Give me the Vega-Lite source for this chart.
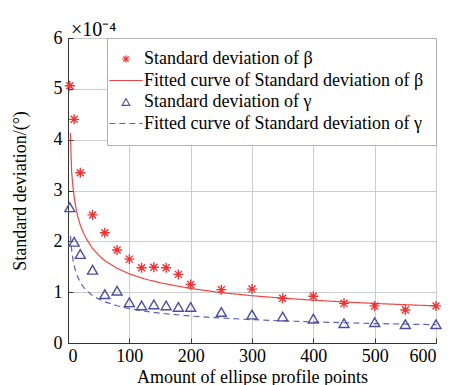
{
  "$schema": "https://vega.github.io/schema/vega-lite/v6.json",
  "width": 368,
  "height": 305,
  "autosize": "none",
  "padding": {"left": 68, "top": 38, "right": 17, "bottom": 42},
  "background": "white",
  "title": {"text": "×10⁻⁴", "anchor": "start", "frame": "group", "dx": 3, "dy": 13, "offset": 2, "font": "Liberation Serif", "fontSize": 20, "fontWeight": "normal", "color": "#000000"},
  "config": {
    "view": {"stroke": "#aaaaaa", "strokeWidth": 1},
    "axis": {
      "labelFont": "Liberation Serif",
      "labelFontSize": 18,
      "labelColor": "#000000",
      "titleFont": "Liberation Serif",
      "titleFontSize": 18,
      "titleFontWeight": "normal",
      "titleColor": "#000000",
      "domainColor": "#333333",
      "tickColor": "#333333",
      "gridColor": "#cccccc",
      "tickSize": -5
    },
    "legend": {
      "title": null,
      "fillColor": "white",
      "strokeColor": "#b0b0b0",
      "padding": 12,
      "labelFont": "Liberation Serif",
      "labelFontSize": 18,
      "labelColor": "#000000",
      "labelLimit": 0,
      "symbolSize": 60,
      "symbolStrokeWidth": 1.1,
      "symbolOffset": -2,
      "labelOffset": 9,
      "rowPadding": 3.5
    }
  },
  "datasets": {
    "pts": [
      {"x": 3, "y": 5.06, "series": "Standard deviation of β"},
      {"x": 10, "y": 4.4, "series": "Standard deviation of β"},
      {"x": 20, "y": 3.35, "series": "Standard deviation of β"},
      {"x": 40, "y": 2.52, "series": "Standard deviation of β"},
      {"x": 60, "y": 2.17, "series": "Standard deviation of β"},
      {"x": 80, "y": 1.83, "series": "Standard deviation of β"},
      {"x": 100, "y": 1.65, "series": "Standard deviation of β"},
      {"x": 120, "y": 1.48, "series": "Standard deviation of β"},
      {"x": 140, "y": 1.49, "series": "Standard deviation of β"},
      {"x": 160, "y": 1.48, "series": "Standard deviation of β"},
      {"x": 180, "y": 1.35, "series": "Standard deviation of β"},
      {"x": 200, "y": 1.15, "series": "Standard deviation of β"},
      {"x": 250, "y": 1.05, "series": "Standard deviation of β"},
      {"x": 300, "y": 1.06, "series": "Standard deviation of β"},
      {"x": 350, "y": 0.88, "series": "Standard deviation of β"},
      {"x": 400, "y": 0.92, "series": "Standard deviation of β"},
      {"x": 450, "y": 0.78, "series": "Standard deviation of β"},
      {"x": 500, "y": 0.73, "series": "Standard deviation of β"},
      {"x": 550, "y": 0.65, "series": "Standard deviation of β"},
      {"x": 600, "y": 0.73, "series": "Standard deviation of β"},
      {"x": 3, "y": 2.67, "series": "Standard deviation of γ"},
      {"x": 10, "y": 1.99, "series": "Standard deviation of γ"},
      {"x": 20, "y": 1.75, "series": "Standard deviation of γ"},
      {"x": 40, "y": 1.44, "series": "Standard deviation of γ"},
      {"x": 60, "y": 0.96, "series": "Standard deviation of γ"},
      {"x": 80, "y": 1.03, "series": "Standard deviation of γ"},
      {"x": 100, "y": 0.8, "series": "Standard deviation of γ"},
      {"x": 120, "y": 0.74, "series": "Standard deviation of γ"},
      {"x": 140, "y": 0.76, "series": "Standard deviation of γ"},
      {"x": 160, "y": 0.74, "series": "Standard deviation of γ"},
      {"x": 180, "y": 0.71, "series": "Standard deviation of γ"},
      {"x": 200, "y": 0.71, "series": "Standard deviation of γ"},
      {"x": 250, "y": 0.61, "series": "Standard deviation of γ"},
      {"x": 300, "y": 0.56, "series": "Standard deviation of γ"},
      {"x": 350, "y": 0.52, "series": "Standard deviation of γ"},
      {"x": 400, "y": 0.48, "series": "Standard deviation of γ"},
      {"x": 450, "y": 0.39, "series": "Standard deviation of γ"},
      {"x": 500, "y": 0.41, "series": "Standard deviation of γ"},
      {"x": 550, "y": 0.37, "series": "Standard deviation of γ"},
      {"x": 600, "y": 0.37, "series": "Standard deviation of γ"}
    ],
    "fit": [
      {"x": 4, "y": 4.13, "series": "Fitted curve of Standard deviation of β"},
      {"x": 5, "y": 3.68, "series": "Fitted curve of Standard deviation of β"},
      {"x": 6, "y": 3.36, "series": "Fitted curve of Standard deviation of β"},
      {"x": 8, "y": 3.08, "series": "Fitted curve of Standard deviation of β"},
      {"x": 10, "y": 2.88, "series": "Fitted curve of Standard deviation of β"},
      {"x": 12, "y": 2.72, "series": "Fitted curve of Standard deviation of β"},
      {"x": 15, "y": 2.53, "series": "Fitted curve of Standard deviation of β"},
      {"x": 20, "y": 2.32, "series": "Fitted curve of Standard deviation of β"},
      {"x": 25, "y": 2.17, "series": "Fitted curve of Standard deviation of β"},
      {"x": 30, "y": 2.05, "series": "Fitted curve of Standard deviation of β"},
      {"x": 40, "y": 1.86, "series": "Fitted curve of Standard deviation of β"},
      {"x": 50, "y": 1.73, "series": "Fitted curve of Standard deviation of β"},
      {"x": 60, "y": 1.62, "series": "Fitted curve of Standard deviation of β"},
      {"x": 80, "y": 1.47, "series": "Fitted curve of Standard deviation of β"},
      {"x": 100, "y": 1.36, "series": "Fitted curve of Standard deviation of β"},
      {"x": 125, "y": 1.26, "series": "Fitted curve of Standard deviation of β"},
      {"x": 150, "y": 1.185, "series": "Fitted curve of Standard deviation of β"},
      {"x": 200, "y": 1.072, "series": "Fitted curve of Standard deviation of β"},
      {"x": 250, "y": 0.991, "series": "Fitted curve of Standard deviation of β"},
      {"x": 300, "y": 0.93, "series": "Fitted curve of Standard deviation of β"},
      {"x": 350, "y": 0.882, "series": "Fitted curve of Standard deviation of β"},
      {"x": 400, "y": 0.842, "series": "Fitted curve of Standard deviation of β"},
      {"x": 450, "y": 0.808, "series": "Fitted curve of Standard deviation of β"},
      {"x": 500, "y": 0.778, "series": "Fitted curve of Standard deviation of β"},
      {"x": 550, "y": 0.753, "series": "Fitted curve of Standard deviation of β"},
      {"x": 600, "y": 0.731, "series": "Fitted curve of Standard deviation of β"},
      {"x": 4, "y": 2.11, "series": "Fitted curve of Standard deviation of γ"},
      {"x": 5, "y": 1.95, "series": "Fitted curve of Standard deviation of γ"},
      {"x": 6, "y": 1.83, "series": "Fitted curve of Standard deviation of γ"},
      {"x": 8, "y": 1.65, "series": "Fitted curve of Standard deviation of γ"},
      {"x": 10, "y": 1.526, "series": "Fitted curve of Standard deviation of γ"},
      {"x": 12, "y": 1.431, "series": "Fitted curve of Standard deviation of γ"},
      {"x": 15, "y": 1.322, "series": "Fitted curve of Standard deviation of γ"},
      {"x": 20, "y": 1.195, "series": "Fitted curve of Standard deviation of γ"},
      {"x": 25, "y": 1.104, "series": "Fitted curve of Standard deviation of γ"},
      {"x": 30, "y": 1.035, "series": "Fitted curve of Standard deviation of γ"},
      {"x": 40, "y": 0.935, "series": "Fitted curve of Standard deviation of γ"},
      {"x": 50, "y": 0.865, "series": "Fitted curve of Standard deviation of γ"},
      {"x": 60, "y": 0.811, "series": "Fitted curve of Standard deviation of γ"},
      {"x": 80, "y": 0.732, "series": "Fitted curve of Standard deviation of γ"},
      {"x": 100, "y": 0.677, "series": "Fitted curve of Standard deviation of γ"},
      {"x": 125, "y": 0.626, "series": "Fitted curve of Standard deviation of γ"},
      {"x": 150, "y": 0.587, "series": "Fitted curve of Standard deviation of γ"},
      {"x": 200, "y": 0.53, "series": "Fitted curve of Standard deviation of γ"},
      {"x": 250, "y": 0.49, "series": "Fitted curve of Standard deviation of γ"},
      {"x": 300, "y": 0.459, "series": "Fitted curve of Standard deviation of γ"},
      {"x": 350, "y": 0.435, "series": "Fitted curve of Standard deviation of γ"},
      {"x": 400, "y": 0.415, "series": "Fitted curve of Standard deviation of γ"},
      {"x": 450, "y": 0.398, "series": "Fitted curve of Standard deviation of γ"},
      {"x": 500, "y": 0.383, "series": "Fitted curve of Standard deviation of γ"},
      {"x": 550, "y": 0.371, "series": "Fitted curve of Standard deviation of γ"},
      {"x": 600, "y": 0.36, "series": "Fitted curve of Standard deviation of γ"}
    ]
  },
  "encoding": {
    "x": {
      "field": "x",
      "type": "quantitative",
      "scale": {"domain": [0, 600], "nice": false},
      "axis": {
        "values": [0, 100, 200, 300, 400, 500, 600],
        "title": "Amount of ellipse profile points",
        "labelPadding": 9,
        "titlePadding": 3,
        "grid": true
      }
    },
    "y": {
      "field": "y",
      "type": "quantitative",
      "scale": {"domain": [0, 6], "nice": false},
      "axis": {
        "values": [0, 1, 2, 3, 4, 5, 6],
        "title": "Standard deviation/(°)",
        "labelPadding": 11,
        "titlePadding": 24,
        "grid": true
      }
    }
  },
  "layer": [
    {
      "data": {"name": "fit"},
      "mark": {"type": "line", "strokeWidth": 1.2},
      "encoding": {
        "color": {
          "field": "series",
          "type": "nominal",
          "scale": {
            "domain": ["Standard deviation of β", "Fitted curve of Standard deviation of β", "Standard deviation of γ", "Fitted curve of Standard deviation of γ"],
            "range": ["#ee3333", "#f04545", "#4d4d9e", "#6060b8"]
          },
          "legend": {"orient": "top-right", "offset": 0}
        },
        "strokeDash": {
          "field": "series",
          "type": "nominal",
          "scale": {
            "domain": ["Standard deviation of β", "Fitted curve of Standard deviation of β", "Standard deviation of γ", "Fitted curve of Standard deviation of γ"],
            "range": [[1, 0], [1, 0], [1, 0], [6, 4]]
          },
          "legend": {"orient": "top-right", "offset": 0}
        }
      }
    },
    {
      "data": {"name": "pts"},
      "mark": {"type": "point", "filled": false, "strokeWidth": 1.4, "size": 100, "opacity": 1},
      "encoding": {
        "color": {"field": "series", "type": "nominal"},
        "shape": {
          "field": "series",
          "type": "nominal",
          "scale": {
            "domain": ["Standard deviation of β", "Fitted curve of Standard deviation of β", "Standard deviation of γ", "Fitted curve of Standard deviation of γ"],
            "range": ["M-1,0L1,0M0,-1L0,1M-0.7,-0.7L0.7,0.7M-0.7,0.7L0.7,-0.7", "M-4.3,0L4.3,0", "triangle-up", "M-4.3,0L4.3,0"]
          },
          "legend": {"orient": "top-right", "offset": 0}
        }
      }
    }
  ]
}
